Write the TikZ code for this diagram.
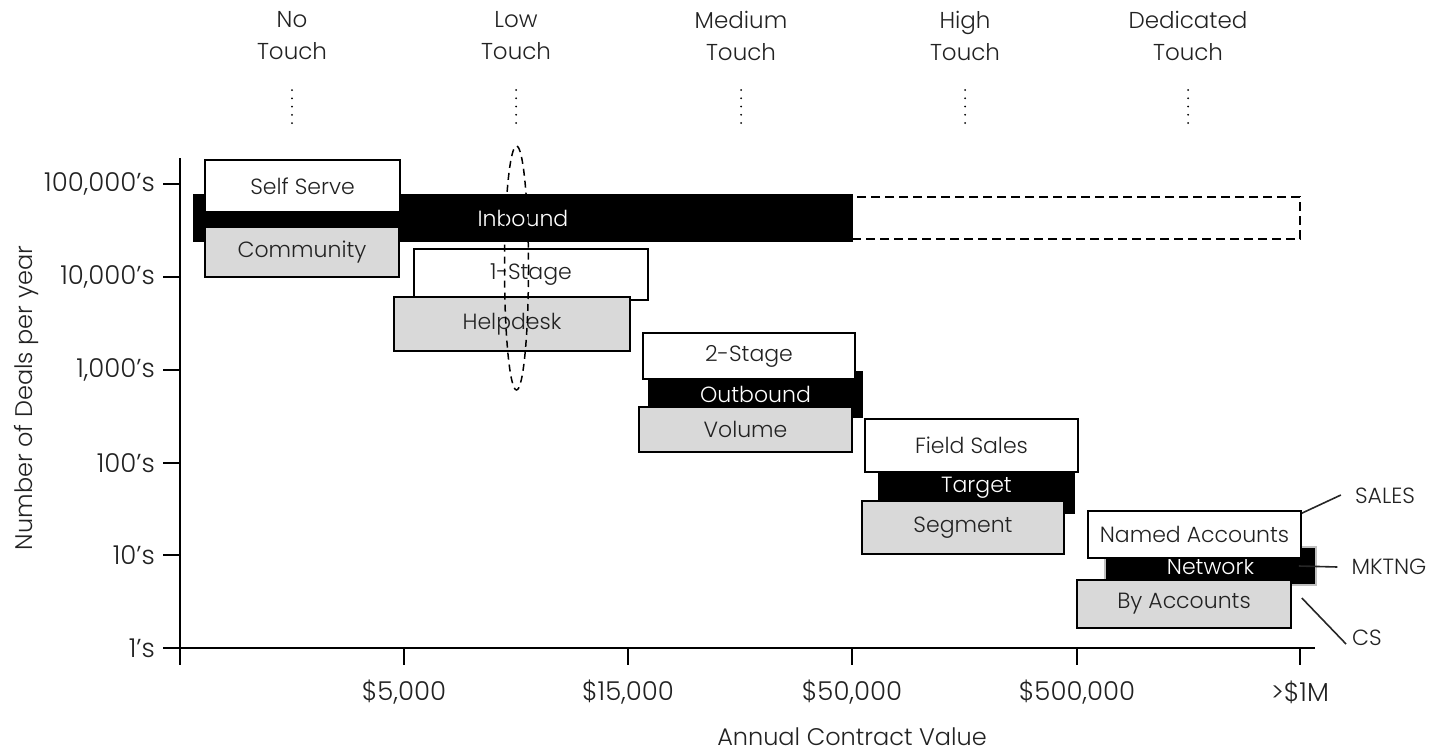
\documentclass[tikz,border=0pt]{standalone}
\usepackage{fontspec}
\IfFontExistsTF{Poppins Light}{\setmainfont{Poppins Light}}{\setmainfont{Poppins}}
\usetikzlibrary{shapes.geometric}

\definecolor{boxgray}{HTML}{D9D9D9}
\definecolor{ink}{HTML}{222222}

\tikzset{
  txt/.style={inner sep=0pt, text=ink, font=\fontsize{22}{32}\selectfont},
  boxbase/.style={txt, line width=1.6pt, draw=black},
  whitebox/.style={boxbase, fill=white},
  graybox/.style={boxbase, fill=boxgray},
  blackbox/.style={boxbase, fill=black, text=white},
  ghostbox/.style={line width=1.6pt, draw=black, dash pattern=on 9pt off 5pt},
  boxsize/.style 2 args={minimum width=#1pt, minimum height=#2pt},
  toplabel/.style={txt, align=center, font=\fontsize{23}{32}\selectfont},
  ticklabel/.style={txt, font=\fontsize{26}{30}\selectfont},
  titlelabel/.style={txt, font=\fontsize{24}{28}\selectfont},
  rolelabel/.style={txt, font=\fontsize{22}{26}\selectfont},
  axisline/.style={line width=1.6pt, draw=black},
  dotline/.style={line width=2pt, line cap=round, dash pattern=on 0pt off 8.25pt},
  leader/.style={line width=1.6pt, draw=black!85},
  band/.style={draw=black, line width=1.5pt, dash pattern=on 7pt off 5pt}
}

\begin{document}
\begin{tikzpicture}[x=1pt,y=-1pt]
\useasboundingbox (0,0) rectangle (1430,753);

% engagement levels along the top
\node[toplabel] (notouch)   at (292,36)  {No\\Touch};
\node[toplabel] (lowtouch)  at (516,36)  {Low\\Touch};
\node[toplabel] (medtouch)  at (741,36)  {Medium\\Touch};
\node[toplabel] (hightouch) at (965,36)  {High\\Touch};
\node[toplabel] (dedtouch)  at (1188,36) {Dedicated\\Touch};
\draw[dotline] (292,90) -- (292,123.2);
\draw[dotline] (516,90) -- (516,123.2);
\draw[dotline] (741,90) -- (741,123.2);
\draw[dotline] (965,90) -- (965,123.2);
\draw[dotline] (1188,90) -- (1188,123.2);

% axes
\draw[axisline] (180,158) -- (180,665);
\draw[axisline] (163,648) -- (1315,648);
\foreach \yy in {184,277,370,463,555} \draw[axisline] (163,\yy) -- (180,\yy);
\foreach \xx in {404,628,852,1077,1300} \draw[axisline] (\xx,648) -- (\xx,665);

% tick labels
\node[ticklabel, anchor=east] (y5) at (155,184) {100,000’s};
\node[ticklabel, anchor=east] (y4) at (155,277) {10,000’s};
\node[ticklabel, anchor=east] (y3) at (155,370) {1,000’s};
\node[ticklabel, anchor=east] (y2) at (155,463) {100’s};
\node[ticklabel, anchor=east] (y1) at (155,555) {10’s};
\node[ticklabel, anchor=east] (y0) at (155,648) {1’s};
\node[ticklabel] (x1) at (404,692)  {\$5,000};
\node[ticklabel] (x2) at (628,692)  {\$15,000};
\node[ticklabel] (x3) at (852,692)  {\$50,000};
\node[ticklabel] (x4) at (1077,692) {\$500,000};
\node[ticklabel] (x5) at (1300,692) {>\$1M};

% axis titles
\node[titlelabel, rotate=90] (ytitle) at (27,398) {Number of Deals per year};
\node[titlelabel, anchor=base] (xtitle) at (852,745) {Annual Contract Value};

% no touch / inbound
\node[ghostbox, boxsize={448}{42}] (inboundext) at (1076,218) {};
\node[blackbox, boxsize={658}{46}] (inbound) at (523,218) {Inbound};
\node[whitebox, boxsize={195}{52}] (selfserve) at (302.5,186) {Self Serve};
\node[graybox, boxsize={194}{50}] (community) at (302,252) {Community};

% low touch
\node[whitebox, boxsize={234}{51}] (onestage) at (531,274.5) {1-Stage};
\node[graybox, boxsize={236}{54}] (helpdesk) at (512,324) {Helpdesk};

% medium touch
\node[blackbox, boxsize={213}{45}] (outbound) at (755.5,394.5) {Outbound};
\node[whitebox, boxsize={212}{46}] (twostage) at (749,356) {2-Stage};
\node[graybox, boxsize={213}{45}] (volume) at (745.5,429.5) {Volume};

% high touch
\node[blackbox, boxsize={195}{50}] (target) at (976.5,488) {Target};
\node[whitebox, boxsize={213}{53}] (fieldsales) at (971.5,445.5) {Field Sales};
\node[graybox, boxsize={202}{53}] (segment) at (963,527.5) {Segment};

% dedicated touch
\node[blackbox, draw=black!25, boxsize={211}{38}] (network) at (1210.5,566) {Network};
\node[whitebox, boxsize={213}{47}] (named) at (1194.5,534.5) {Named Accounts};
\node[graybox, boxsize={214}{48}] (byaccounts) at (1184,604) {By Accounts};

% low touch band
\draw[band] (516.5,268) ellipse [x radius=12, y radius=122];

% team labels
\node[rolelabel] (sales) at (1385,496) {SALES};
\node[rolelabel] (mktng) at (1389,567) {MKTNG};
\node[rolelabel] (cs)    at (1367,638) {CS};
\draw[leader] ([yshift=-3pt]named.north east) -- ([xshift=-14pt,yshift=1pt]sales.west);
\draw[leader] ([xshift=-18pt]network.east) -- ([xshift=-14pt]mktng.west);
\draw[leader] ([xshift=10pt,yshift=6pt]byaccounts.east) -- ([xshift=-6pt,yshift=-6pt]cs.west);
\end{tikzpicture}
\end{document}
